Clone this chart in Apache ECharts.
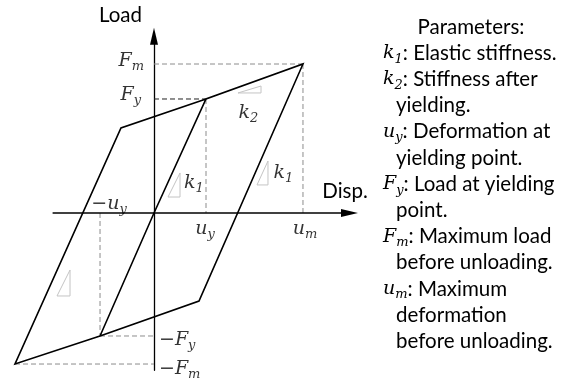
<!DOCTYPE html>
<html><head><meta charset="utf-8">
<script src="https://cdn.jsdelivr.net/npm/echarts@6/dist/echarts.min.js"></script>
<style>html,body{margin:0;padding:0;background:#fff}#c{width:567px;height:382px}</style>
</head><body><div id="c"></div>
<script>
// Units: u_y = 1 (displacement), F_y = 1 (load)
const uY = 1.0, fY = 1.0;
const uM = 2.865, fM = 1.307;
const negUY = -1.038, negFY = -1.079;
const negUM = -2.673, negFM = -1.325;

// visible extent of the displacement axis line
const dispAxisFrom = -1.95, dispAxisTo = 3.76;

// hysteresis path (x = displacement, y = load)
const loopX = [negUY, 0, uY, uM, 0.865, negUY, negUM, -0.635, uY];
const loopY = [negFY, 0, fY, fM, -0.772, negFY, negFM, 0.746, fY];

// small slope triangles
const slopeTriX = [
  [1.615, 2.058, 2.058],
  [0.269, 0.500, 0.500],
  [1.981, 2.192, 2.192],
  [-1.865, -1.615, -1.615]
];
const slopeTriY = [
  [1.053, 1.114, 1.053],
  [0.140, 0.351, 0.140],
  [0.246, 0.456, 0.246],
  [-0.728, -0.500, -0.728]
];

// slope labels
const kNames = [['k','2'], ['k','1'], ['k','1']];
const kX = [1.817, 0.769, 2.490];
const kY = [0.877, 0.263, 0.351];

// tick labels
const tickNames = [['F','m',''], ['F','y',''], ['F','y','−'], ['F','m','−'], ['u','y',''], ['u','m',''], ['u','y','−']];
const tickX = [0, 0, 0, 0, uY, uM, negUY];
const tickY = [fM, fY, negFY, negFM, 0, 0, 0];

// legend text
const paramTitle = 'Parameters:';
const paramSym = [['k','1'], ['k','2'], ['u','y'], ['F','y'], ['F','m'], ['u','m']];
const paramDesc = [
  ['Elastic stiffness.'],
  ['Stiffness after', 'yielding.'],
  ['Deformation at', 'yielding point.'],
  ['Load at yielding', 'point.'],
  ['Maximum load', 'before unloading.'],
  ['Maximum', 'deformation', 'before unloading.']
];
const axisNames = ['Disp.', 'Load'];

const SANS = 'Lato';
const MATH = "'DejaVu Serif'";
const FS = 20.5;
const rich = {
  m: { fontFamily: MATH, fontStyle: 'italic', fontSize: 19, lineHeight: 24, color: '#000' },
  s: { fontFamily: MATH, fontStyle: 'italic', fontSize: 13, lineHeight: 12, padding: [12, 0, 0, 0], color: '#000' },
  t: { fontFamily: SANS, fontSize: FS, lineHeight: 24, color: '#000' }
};
const mathLabel = (n) => (n[2] ? '{m|' + n[2] + '}' : '') + '{m|' + n[0] + '}{s|' + n[1] + '}';

const chart = echarts.init(document.getElementById('c'), null, { renderer: 'canvas' });

const series = [];
const guide = (pts, color) => ({
  type: 'line', data: pts, showSymbol: false, silent: true, z: 1,
  lineStyle: { color: color, width: 1, type: [5, 3] }
});
series.push(guide([[0, fM], [uM, fM]], '#8c8c8c'));
series.push(guide([[uM, fM], [uM, 0]], '#8c8c8c'));
series.push(guide([[0, fY], [uY, fY]], '#222'));
series.push(guide([[uY, fY], [uY, 0]], '#8c8c8c'));
series.push(guide([[negUY, 0], [negUY, negFY]], '#8c8c8c'));
series.push(guide([[negUY, negFY], [0, negFY]], '#8c8c8c'));
series.push(guide([[negUM, negFM], [0, negFM]], '#8c8c8c'));

slopeTriX.forEach((xs, i) => {
  const pts = xs.map((x, j) => [x, slopeTriY[i][j]]);
  pts.push(pts[0]);
  series.push({ type: 'line', data: pts, showSymbol: false, silent: true, z: 1,
    lineStyle: { color: '#c4c4c4', width: 1 } });
});

// displacement axis line with arrow head
series.push({
  type: 'line', silent: true, z: 2, showSymbol: true, clip: false,
  lineStyle: { color: '#000', width: 1.3 },
  itemStyle: { color: '#000' },
  data: [
    { value: [dispAxisFrom, 0], symbol: 'none' },
    { value: [dispAxisTo, 0], symbol: 'triangle', symbolRotate: -90, symbolSize: [8, 17] }
  ]
});

series.push({
  type: 'line', data: loopX.map((x, i) => [x, loopY[i]]), showSymbol: false, z: 3,
  lineStyle: { color: '#000', width: 1.6, join: 'miter' }
});

series.push({
  type: 'scatter', symbolSize: 0, silent: true, z: 4,
  data: kX.map((x, i) => ({ value: [x, kY[i]], label: { show: true, position: 'inside',
    formatter: mathLabel(kNames[i]), rich: rich } }))
});

const tickPos = [
  { position: 'left', distance: 10, offset: [0, -3] },
  { position: 'left', distance: 13, offset: [0, -4] },
  { position: 'right', distance: 5, offset: [0, 4] },
  { position: 'right', distance: 5, offset: [0, 5] },
  { position: 'bottom', distance: 4, offset: [-1, 0] },
  { position: 'bottom', distance: 4, offset: [2, 0] },
  { position: 'top', distance: -2, offset: [9, 1] }
];
series.push({
  type: 'scatter', symbolSize: 0, silent: true, z: 4,
  data: tickX.map((x, i) => ({ value: [x, tickY[i]], label: Object.assign({ show: true,
    formatter: mathLabel(tickNames[i]), rich: rich }, tickPos[i]) }))
});

const graphics = [];
const LH = 26.2;
const top0 = 27;
graphics.push({ type: 'text', x: 471, y: top0, style: { text: paramTitle, font: FS + 'px ' + SANS,
  fill: '#000', align: 'center', verticalAlign: 'middle' } });
let row = 1;
paramSym.forEach((sym, i) => {
  paramDesc[i].forEach((d, j) => {
    const txt = j === 0 ? '{m|' + sym[0] + '}{s|' + sym[1] + '}{t|: ' + d + '}' : '{t|' + d + '}';
    graphics.push({ type: 'text', x: j === 0 ? 383 : 396, y: top0 + row * LH,
      style: { text: txt, rich: rich, align: 'left', verticalAlign: 'middle' } });
    row++;
  });
});

// grid: x from -2.75 to 3.75 (52 px per u_y), y from -1.38 to 1.55 (114 px per F_y)
chart.setOption({
  animation: false,
  backgroundColor: '#fff',
  grid: { left: 11, top: 36.3, width: 338, height: 334, containLabel: false, outerBoundsMode: 'none' },
  xAxis: {
    type: 'value', min: -2.75, max: 3.75,
    name: axisNames[0], nameLocation: 'end', nameGap: -4,
    nameTextStyle: { fontFamily: SANS, fontSize: FS, color: '#000', align: 'center', verticalAlign: 'bottom', padding: [0, 0, 11, 0] },
    axisLine: { show: false },
    axisTick: { show: false }, axisLabel: { show: false }, splitLine: { show: false }
  },
  yAxis: {
    type: 'value', min: -1.38, max: 1.55,
    name: axisNames[1], nameLocation: 'end', nameGap: 10,
    nameTextStyle: { fontFamily: SANS, fontSize: FS, color: '#000', align: 'right', verticalAlign: 'bottom', padding: [0, 12, 0, 0] },
    axisLine: { onZero: true, symbol: ['none', 'triangle'], symbolSize: [8, 17], lineStyle: { color: '#000', width: 1.3 } },
    axisTick: { show: false }, axisLabel: { show: false }, splitLine: { show: false }
  },
  graphic: graphics,
  series: series
});
</script></body></html>
